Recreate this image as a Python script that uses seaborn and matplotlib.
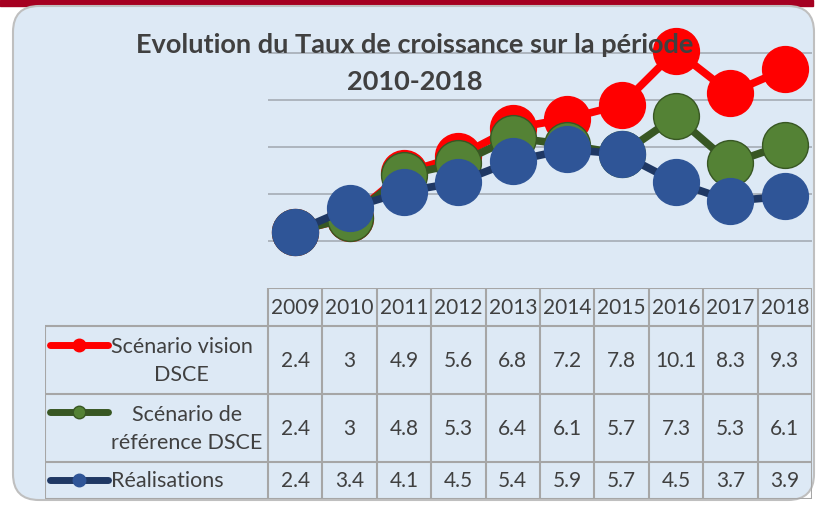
import matplotlib.pyplot as plt
import matplotlib.transforms as mtransforms
import pandas as pd
import seaborn as sns
from matplotlib.patches import FancyBboxPatch, Rectangle

years = [2009, 2010, 2011, 2012, 2013, 2014, 2015, 2016, 2017, 2018]
vision = [2.4, 3, 4.9, 5.6, 6.8, 7.2, 7.8, 10.1, 8.3, 9.3]
reference = [2.4, 3, 4.8, 5.3, 6.4, 6.1, 5.7, 7.3, 5.3, 6.1]
realisations = [2.4, 3.4, 4.1, 4.5, 5.4, 5.9, 5.7, 4.5, 3.7, 3.9]
series_labels = ["Scénario vision\nDSCE", "Scénario de\nréférence DSCE", "Réalisations"]
title_lines = ["Evolution du Taux de croissance sur la période", "2010-2018"]

# line colour, marker fill, marker edge
styles = [("#ff0000", "#ff0000", "#ff0000"),
          ("#385723", "#548235", "#385723"),
          ("#1f3864", "#2f5597", "#2f5597")]

W, H = 827, 505
sns.set_theme(style="white")
plt.rcParams["font.family"] = ["Lato", "DejaVu Sans"]

fig = plt.figure(figsize=(W / 100, H / 100), dpi=100)
fig.patch.set_facecolor("white")
px = mtransforms.IdentityTransform()

# dark red band and rounded chart area
fig.add_artist(Rectangle((0, H - 6), 813, 6, transform=px, color="#a50021", zorder=-20))
fig.add_artist(FancyBboxPatch((13, H - 500), 801, 494, boxstyle="round,pad=0,rounding_size=26",
                              transform=px, facecolor="#dde9f5", edgecolor="#bfbfbf", lw=1.5,
                              zorder=-10))


def box(x0, y0, x1, y1):
    return [x0 / W, 1 - y1 / H, (x1 - x0) / W, (y1 - y0) / H]


col_w = (812 - 268) / 10
x_left = years[0] - 0.5
x_right = years[-1] + 0.5

# chart area
ax = fig.add_axes(box(268, 6, 812, 288))
ax.set_facecolor("none")
data = pd.DataFrame({"year": years, "vision": vision, "reference": reference,
                     "realisations": realisations})
for col, (lc, mf, me) in zip(["vision", "reference", "realisations"], styles):
    sns.lineplot(data=data, x="year", y=col, ax=ax, color=lc, lw=5.5, marker="o",
                 markersize=33, markerfacecolor=mf, markeredgecolor=me, markeredgewidth=1,
                 clip_on=False)
ax.set_xlim(x_left, x_right)
ax.set_ylim(0, 12)
ax.set_yticks([2, 4, 6, 8, 10])
ax.yaxis.grid(True, color="#a9b1ba", lw=1.3)
ax.set_axisbelow(True)
ax.tick_params(left=False, bottom=False, labelleft=False, labelbottom=False)
ax.set_xlabel("")
ax.set_ylabel("")
sns.despine(ax=ax, left=True, bottom=True)

fig.text(415 / W, 1 - 45 / H, title_lines[0], ha="center", va="center", fontsize=19.5,
         fontweight="bold", color="#404040")
fig.text(415 / W, 1 - 82 / H, title_lines[1], ha="center", va="center", fontsize=19.5,
         fontweight="bold", color="#404040")

# data table
tab = fig.add_axes(box(45, 288, 812, 499))
tab.set_facecolor("none")
tab.set_xlim(x_left - (268 - 45) / col_w, x_right)
tab.set_ylim(499, 288)
tab.axis("off")
t_left = tab.get_xlim()[0]
rows = [288, 326, 394, 462, 499]
grid_kw = dict(color="#a6a6a6", lw=1.5)
tab.hlines(rows[0], x_left, x_right, **grid_kw)
tab.hlines(rows[1:], t_left, x_right, **grid_kw)
tab.vlines([y - 0.5 for y in years] + [x_right], rows[0], rows[-1], **grid_kw)
tab.vlines(t_left, rows[1], rows[-1], **grid_kw)

txt_kw = dict(ha="center", va="center", fontsize=15, color="#404040")
for yr in years:
    tab.text(yr, (rows[0] + rows[1]) / 2 + 1, str(yr), **txt_kw)

key_x0 = t_left + (50 - 45) / col_w
key_x1 = t_left + (108 - 45) / col_w
label_x = t_left + (111 - 45) / col_w
key_y = [345, 412, 480]
for i, vals in enumerate([vision, reference, realisations]):
    yc = (rows[i + 1] + rows[i + 2]) / 2
    for yr, v in zip(years, vals):
        tab.text(yr, yc + 1, f"{v:g}", **txt_kw)
    lc, mf, me = styles[i]
    tab.plot([key_x0, key_x1], [key_y[i]] * 2, color=lc, lw=5, solid_capstyle="round")
    tab.plot([(key_x0 + key_x1) / 2], [key_y[i]], "o", color=mf, mec=me, ms=9)
    tab.text(label_x, yc + 1, series_labels[i], ha="left", va="center", fontsize=15.5,
             color="#404040", multialignment="center", linespacing=1.55)

fig.savefig("out.png", dpi=100)
